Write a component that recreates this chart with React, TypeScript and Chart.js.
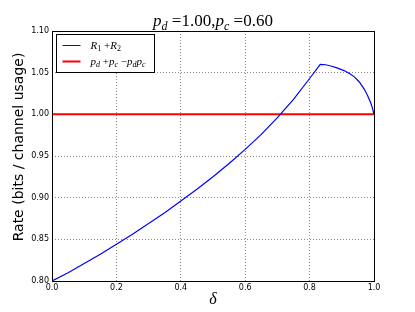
import React, { useEffect, useRef } from "react";
import { Chart, registerables } from "chart.js";

Chart.register(...registerables);

const deltas = [0, 0.05, 0.1, 0.15, 0.2, 0.25, 0.3, 0.35, 0.4, 0.45, 0.5, 0.55, 0.6, 0.65, 0.7, 0.75, 0.8, 0.833, 0.85, 0.866, 0.885, 0.907, 0.925, 0.939, 0.955, 0.97, 0.98, 0.99, 0.995, 1.0];
const rates = [0.8, 0.81, 0.821, 0.832, 0.844, 0.856, 0.869, 0.882, 0.896, 0.91, 0.925, 0.941, 0.958, 0.976, 0.996, 1.018, 1.043, 1.06, 1.0595, 1.058, 1.0558, 1.0525, 1.0488, 1.045, 1.0385, 1.03, 1.0225, 1.0135, 1.0078, 1.0];
const boundX = [0, 1];
const boundY = [1.0, 1.0];
const xTicks = [0, 0.2, 0.4, 0.6, 0.8, 1.0];
const yTicks = [0.8, 0.85, 0.9, 0.95, 1.0, 1.05, 1.1];

type Seg = { t: string; sub?: boolean; it?: boolean };

function drawMath(ctx: CanvasRenderingContext2D, segs: Seg[], x: number, y: number, size: number, align: "left" | "center") {
  const fam = '"Liberation Serif", "DejaVu Serif", serif';
  const fontFor = (s: Seg) => `${s.it ? "italic " : ""}${s.sub ? Math.round(size * 0.7) : size}px ${fam}`;
  let total = 0;
  for (const s of segs) {
    ctx.font = fontFor(s);
    total += ctx.measureText(s.t).width;
  }
  let cx = align === "center" ? x - total / 2 : x;
  ctx.textBaseline = "alphabetic";
  ctx.textAlign = "left";
  for (const s of segs) {
    ctx.font = fontFor(s);
    ctx.fillText(s.t, cx, s.sub ? y + size * 0.25 : y);
    cx += ctx.measureText(s.t).width;
  }
}

const overlay = {
  id: "overlay",
  afterDraw(chart: any) {
    const ctx = chart.ctx as CanvasRenderingContext2D;
    const a = chart.chartArea;
    ctx.save();
    ctx.strokeStyle = "#000";
    ctx.lineWidth = 1;
    ctx.strokeRect(Math.round(a.left) + 0.5, Math.round(a.top) + 0.5, Math.round(a.right - a.left), Math.round(a.bottom - a.top));
    ctx.fillStyle = "#000";
    const cxp = (a.left + a.right) / 2;
    // title
    drawMath(ctx, [
      { t: "p", it: true }, { t: "d", it: true, sub: true }, { t: " =1.00," },
      { t: "p", it: true }, { t: "c", it: true, sub: true }, { t: " =0.60" },
    ], cxp, 26, 17, "center");
    // x label
    drawMath(ctx, [{ t: "δ", it: true }], cxp, 304, 16, "center");
    // y label
    ctx.save();
    ctx.translate(23, 147);
    ctx.rotate(-Math.PI / 2);
    ctx.font = '14px "DejaVu Sans", sans-serif';
    ctx.textAlign = "center";
    ctx.textBaseline = "alphabetic";
    ctx.fillText("Rate (bits / channel usage)", 0, 0);
    ctx.restore();
    // legend
    const lx = a.left + 4.5, ly = a.top + 3.5, lw = 98, lh = 38;
    ctx.fillStyle = "#fff";
    ctx.fillRect(lx, ly, lw, lh);
    ctx.strokeStyle = "#000";
    ctx.lineWidth = 1;
    ctx.strokeRect(lx, ly, lw, lh);
    ctx.strokeStyle = "#0000ff";
    ctx.lineWidth = 1;
    ctx.beginPath();
    ctx.moveTo(lx + 6, ly + 11);
    ctx.lineTo(lx + 24, ly + 11);
    ctx.stroke();
    ctx.strokeStyle = "#ff0000";
    ctx.lineWidth = 2;
    ctx.beginPath();
    ctx.moveTo(lx + 6, ly + 27);
    ctx.lineTo(lx + 24, ly + 27);
    ctx.stroke();
    ctx.fillStyle = "#000";
    drawMath(ctx, [{ t: "R", it: true }, { t: "1", sub: true }, { t: " +" }, { t: "R", it: true }, { t: "2", sub: true }], lx + 34, ly + 14, 11, "left");
    drawMath(ctx, [
      { t: "p", it: true }, { t: "d", it: true, sub: true }, { t: " +" },
      { t: "p", it: true }, { t: "c", it: true, sub: true }, { t: " −" },
      { t: "p", it: true }, { t: "d", it: true, sub: true },
      { t: "p", it: true }, { t: "c", it: true, sub: true },
    ], lx + 34, ly + 30, 11, "left");
    ctx.restore();
  },
};

export default function App() {
  const ref = useRef<HTMLCanvasElement | null>(null);
  useEffect(() => {
    if (!ref.current) return;
    const chart = new Chart(ref.current, {
      type: "line",
      data: {
        datasets: [
          {
            label: "R1+R2",
            data: deltas.map((d, i) => ({ x: d, y: rates[i] })),
            borderColor: "#0000ff",
            borderWidth: 1.2,
            pointRadius: 0,
            tension: 0,
            fill: false,
          },
          {
            label: "pd+pc-pdpc",
            data: boundX.map((d, i) => ({ x: d, y: boundY[i] })),
            borderColor: "#ff0000",
            borderWidth: 2,
            pointRadius: 0,
            fill: false,
          },
        ],
      },
      options: {
        animation: false,
        responsive: true,
        maintainAspectRatio: false,
        layout: { padding: { left: 0, right: 41, top: 31, bottom: 0 } },
        plugins: { legend: { display: false }, title: { display: false }, tooltip: { enabled: false } },
        scales: {
          x: {
            type: "linear",
            min: 0,
            max: 1,
            afterFit: (s: any) => { s.height = 31; },
            afterBuildTicks: (s: any) => { s.ticks = xTicks.map((v) => ({ value: v })); },
            ticks: {
              callback: (v: any) => Number(v).toFixed(1),
              font: { family: '"DejaVu Sans", sans-serif', size: 8 },
              color: "#000",
              padding: 2,
              maxRotation: 0,
              autoSkip: false,
            },
            grid: { color: "#888", lineWidth: 1, drawTicks: false },
            border: { display: false, dash: [1, 2] },
          },
          y: {
            type: "linear",
            min: 0.8,
            max: 1.1,
            afterFit: (s: any) => { s.width = 52; },
            afterBuildTicks: (s: any) => { s.ticks = yTicks.map((v) => ({ value: v })); },
            ticks: {
              callback: (v: any) => Number(v).toFixed(2),
              font: { family: '"DejaVu Sans", sans-serif', size: 8 },
              color: "#000",
              padding: 3,
              autoSkip: false,
            },
            grid: { color: "#888", lineWidth: 1, drawTicks: false },
            border: { display: false, dash: [1, 2] },
          },
        },
      },
      plugins: [overlay],
    });
    return () => chart.destroy();
  }, []);
  return (
    <div style={{ position: "fixed", left: 0, top: 0, width: 415, height: 312, background: "#fff" }}>
      <canvas ref={ref} />
    </div>
  );
}
